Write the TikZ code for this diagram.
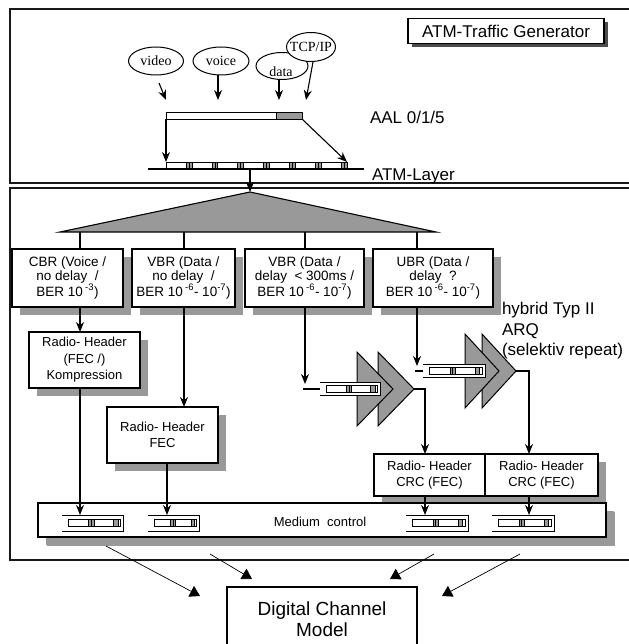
\documentclass[tikz,border=0pt]{standalone}
\usepackage{fontspec}
\setmainfont{Liberation Sans}
\newfontfamily\serifface{Liberation Serif}
\usetikzlibrary{arrows.meta,shadows,shapes.geometric,calc}
\definecolor{shade}{RGB}{153,153,153}

\tikzset{
  every node/.style={inner sep=0pt, outer sep=0pt},
  frame/.style={draw=black!90, line width=1.2pt},
  conn/.style={line width=1.1pt},
  cellline/.style={line width=0.8pt},
  arr/.style={conn, -{Stealth[length=10pt,width=8pt]}},
  bigarr/.style={line width=0.7pt, -{Triangle[length=10pt,width=12pt]}},
  ell/.style={ellipse, draw, line width=1pt, fill=white},
  elltext/.style={font=\serifface\fontsize{14}{15}\selectfont},
  lbl/.style={font=\fontsize{17}{20.5}\selectfont, anchor=west, align=left},
  titlebox/.style={draw, line width=1.1pt, fill=white, font=\fontsize{17}{20}\selectfont,
    drop shadow={shadow xshift=3.5pt, shadow yshift=-3.5pt, opacity=1, fill=black!70}},
  panel/.style={draw, line width=1.1pt, fill=white, align=center,
    drop shadow={shadow xshift=8pt, shadow yshift=-8pt, opacity=1, fill=shade}},
  toptext/.style={font=\fontsize{13.5}{13.5}\selectfont},
  radiotext/.style={font=\fontsize{13}{16.5}\selectfont},
  chev/.style={fill=shade, draw=black, line width=1pt, line join=miter},
}

% queue icon: left x, right x, centre y, half height
\newcommand\qicon[4]{%
  \pgfmathsetmacro\qqL{#1}\pgfmathsetmacro\qqR{#2}%
  \pgfmathsetmacro\qqT{#3-#4}\pgfmathsetmacro\qqB{#3+#4}%
  \pgfmathsetmacro\qqa{#1+6}\pgfmathsetmacro\qqw{#2-3-(#1+6)}%
  \pgfmathsetmacro\qqb{\qqa+0.40*\qqw}\pgfmathsetmacro\qqc{\qqb+0.05*\qqw}%
  \pgfmathsetmacro\qqd{\qqc+0.05*\qqw}\pgfmathsetmacro\qqe{\qqd+0.38*\qqw}%
  \pgfmathsetmacro\qqf{\qqe+0.08*\qqw}\pgfmathsetmacro\qqg{\qqa+\qqw}%
  \pgfmathsetmacro\qqit{#3-3.5}\pgfmathsetmacro\qqib{#3+3.5}%
  \fill[white] (\qqL,\qqT) rectangle (\qqR,\qqB);
  \draw[cellline] (\qqL,\qqT) -- (\qqR,\qqT) -- (\qqR,\qqB) -- (\qqL,\qqB);
  \draw[cellline,fill=white] (\qqa,\qqit) rectangle (\qqg,\qqib);
  \draw[cellline,fill=shade] (\qqb,\qqit) rectangle (\qqc,\qqib);
  \draw[cellline,fill=shade] (\qqc,\qqit) rectangle (\qqd,\qqib);
  \draw[cellline,fill=shade] (\qqe,\qqit) rectangle (\qqf,\qqib);
}

% pair of arrow-head triangles: front left x, back left x, top y, bottom y, width
\newcommand\chevpair[5]{%
  \pgfmathsetmacro\chM{(#3+#4)/2}%
  \filldraw[chev] (#2,#3) -- (#2+#5,\chM) -- (#2,#4) -- cycle;
  \filldraw[chev] (#1,#3) -- (#1+#5,\chM) -- (#1,#4) -- cycle;
}

\begin{document}
\begin{tikzpicture}[x=1pt,y=-1pt]
\useasboundingbox (0,0) rectangle (628,644);

% ---------- the two frames ----------
\draw[frame] (640,9) -| (10,183) -- (640,183);
\draw[frame] (640,188) -| (10,560) -- (640,560);

% ---------- traffic generator ----------
\node[titlebox, minimum width=196pt, minimum height=25pt] (gen) at (506,31) {ATM-Traffic Generator};

\node[ell, minimum width=55pt, minimum height=28pt] (video) at (156,61) {};
\node[elltext] (videotxt) at (video) {video};
\node[ell, minimum width=56pt, minimum height=28pt] (voice) at (221,61) {};
\node[elltext] (voicetxt) at (voice) {voice};
\node[ell, minimum width=52pt, minimum height=27pt] (data) at (282,66) {};
\node[elltext] (datatxt) at (281,72) {data};
\node[ell, minimum width=49pt, minimum height=29pt] (tcp) at (311,47) {};
\node[elltext] (tcptxt) at (tcp) {TCP/IP};

\coordinate (vA) at (159,83);  \coordinate (vB) at (166,100);
\coordinate (oA) at (218,75);  \coordinate (oB) at (218,100);
\coordinate (dA) at (279,80);  \coordinate (dB) at (279,100);
\coordinate (tA) at (313,62);  \coordinate (tB) at (306,100);
\draw[arr] (vA) -- (vB);
\draw[arr] (oA) -- (oB);
\draw[arr] (dA) -- (dB);
\draw[arr] (tA) -- (tB);

% AAL frame
\node[draw, cellline, fill=white, minimum width=136pt, minimum height=7pt] (aal) at (234,115.5) {};
\draw[cellline, fill=shade] (276,112) rectangle (302,119);
\node[lbl] (aallbl) at (370,117) {AAL 0/1/5};

% ATM cells
\node[minimum width=181pt, minimum height=6pt] (cells) at (256.5,165) {};
\foreach \i in {0,...,6} {
  \pgfmathsetmacro\cx{166+25.9*\i}
  \draw[cellline, fill=white] (\cx,162) rectangle ++(20,6);
  \draw[cellline, fill=shade] (\cx+20,162) rectangle ++(3,6);
  \draw[cellline, fill=shade] (\cx+23,162) rectangle ++(3,6);
}
\draw[arr] (aal.south west) -- (aal.south west |- cells.north);
\draw[arr] (aal.south east) -- (cells.north east);

\coordinate (laL) at (148,169); \coordinate (laR) at (364,169);
\draw[conn] (laL) -- (laR);
\node[lbl] (atmlbl) at (372,176) {ATM-Layer};

% ---------- service classes ----------
\coordinate (split) at (250,169);
\coordinate (apex) at (250,192);
\coordinate (bl) at (60,232);
\coordinate (br) at (436,232);
\filldraw[fill=shade, line width=1.1pt, line join=miter] (apex) -- (br) -- (bl) -- cycle;
\draw[arr] (split) -- (apex);

\node[panel, toptext, minimum width=111pt, minimum height=58pt] (cbr) at (67.5,278)
  {CBR (Voice /\\ no delay~ /\\ BER 10\,\textsuperscript{-3})};
\node[panel, toptext, minimum width=103pt, minimum height=58pt] (vbra) at (183.5,278)
  {VBR (Data /\\ no delay~ /\\ BER 10\,\textsuperscript{-6}- 10\textsuperscript{-7})};
\node[panel, toptext, minimum width=119pt, minimum height=58pt] (vbrb) at (304.5,278)
  {VBR (Data /\\ delay~ < 300ms /\\ BER 10\,\textsuperscript{-6}- 10\textsuperscript{-7})};
\node[panel, toptext, minimum width=120pt, minimum height=58pt] (ubr) at (433,278)
  {UBR (Data /\\ delay~ ?\\ BER 10\,\textsuperscript{-6}- 10\textsuperscript{-7})};

\coordinate (s1) at (80,232);
\coordinate (s2) at (184,232);
\coordinate (s3) at (305,232);
\coordinate (s4) at (417,232);
\draw[conn] (s1) -- (s1 |- cbr.north);
\draw[conn] (s2) -- (s2 |- vbra.north);
\draw[conn] (s3) -- (s3 |- vbrb.north);
\draw[conn] (s4) -- (s4 |- ubr.north);

\node[lbl] (arqlbl) at (502,331) {hybrid Typ II\\ARQ\\(selektiv repeat)};

% ---------- radio headers ----------
\node[panel, radiotext, minimum width=111pt, minimum height=56pt] (rhk) at (84.5,360)
  {Radio- Header\\ (FEC /)\\ Kompression};
\node[panel, radiotext, minimum width=111pt, minimum height=56pt] (rhf) at (162.5,435)
  {Radio- Header\\ FEC};
\node[panel, radiotext, minimum width=111pt, minimum height=42pt] (crc1) at (429.5,475)
  {Radio- Header\\ CRC (FEC)};
\node[panel, radiotext, minimum width=113pt, minimum height=42pt] (crc2) at (541.5,475)
  {Radio- Header\\ CRC (FEC)};

\draw[arr] (cbr.south -| s1) -- (rhk.north -| s1);
\draw[arr] (vbra.south -| s2) -- (rhf.north -| s2);

% ARQ queues and repeat stages
\coordinate (q1in) at (305,384);
\coordinate (q2in) at (417,366);
\draw[arr] (vbrb.south -| s3) -- (q1in);
\draw[arr] (ubr.south -| s4) -- (q2in);

\chevpair{357}{378}{352}{426}{36}
\chevpair{465}{482}{334}{408}{34}

\coordinate (l1a) at (303,389); \coordinate (l1b) at (320,389);
\draw[conn] (l1a) -- (l1b);
\qicon{320}{380}{389}{6.5}
\coordinate (l2a) at (415,371); \coordinate (l2b) at (423,371);
\draw[conn] (l2a) -- (l2b);
\qicon{423}{485}{371}{6.5}

\coordinate (p1tip) at (414,389);
\coordinate (p2tip) at (516,371);
\coordinate (m1) at (80,515);
\coordinate (m2) at (167,515);
\coordinate (m3) at (425,515);
\coordinate (m4) at (529,515);
\draw[arr] (p1tip) -| (crc1.north -| m3);
\draw[arr] (p2tip) -| (crc2.north -| m4);

% ---------- medium control ----------
\node[panel, minimum width=568pt, minimum height=34pt,
  drop shadow={shadow xshift=9pt, shadow yshift=-9pt, opacity=1, fill=shade}] (med) at (322,520) {};
\node[font=\fontsize{13}{15}\selectfont] (medtxt) at (320,522) {Medium~ control};

\draw[arr] (rhk.south -| m1) -- (m1);
\draw[arr] (rhf.south -| m2) -- (m2);
\draw[arr] (crc1.south -| m3) -- (m3);
\draw[arr] (crc2.south -| m4) -- (m4);

\qicon{62}{123}{523}{8}
\qicon{148}{199}{523}{8}
\qicon{406}{468}{523}{8}
\qicon{492}{554}{523}{8}

% ---------- channel model ----------
\node[draw, line width=1.1pt, fill=white, align=center, font=\fontsize{19}{21}\selectfont,
  minimum width=190pt, minimum height=64pt] (dcm) at (322,619) {Digital Channel\\Model};

\coordinate (o1) at (106,546); \coordinate (e1) at (200,596);
\coordinate (o2) at (210,554); \coordinate (e2) at (252,579);
\coordinate (o3) at (434,554); \coordinate (e3) at (390,579);
\coordinate (o4) at (520,554); \coordinate (e4) at (442,596);
\draw[bigarr] (o1) -- (e1);
\draw[bigarr] (o2) -- (e2);
\draw[bigarr] (o3) -- (e3);
\draw[bigarr] (o4) -- (e4);
\end{tikzpicture}
\end{document}
